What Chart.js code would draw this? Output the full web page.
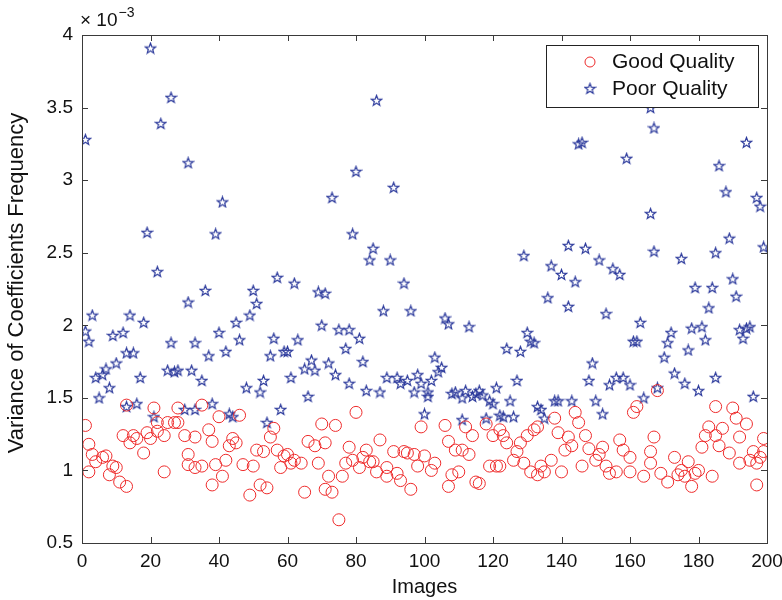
<!DOCTYPE html>
<html>
<head>
<meta charset="utf-8">
<script src="https://cdn.jsdelivr.net/npm/chart.js@4"></script>
<style>
  body { margin: 0; background: #fff; }
</style>
</head>
<body>
<canvas id="qualityChart" width="782" height="600"></canvas>
<script>
// values are in units of 1e-3
const goodX = [1,2,2,3,4,6,7,8,9,10,11,12,13,13,14,15,16,18,19,20,21,22,22,24,24,25,27,28,28,30,31,31,33,
  33,35,35,37,38,38,39,40,41,42,43,44,45,46,47,49,50,51,52,53,54,55,56,57,58,59,60,61,62,64,65,66,
  68,69,70,71,71,72,73,74,75,76,77,78,79,80,81,82,83,84,85,86,87,89,89,91,92,93,94,95,96,97,98,99,
  100,102,103,106,107,107,108,109,110,111,112,113,114,115,116,118,119,120,121,122,122,123,124,126,127,128,129,130,131,132,133,
  133,134,135,137,138,139,140,141,142,143,144,145,146,147,148,150,151,152,153,154,156,157,158,160,160,161,162,164,166,168,
  167,166,169,171,173,174,175,176,177,178,179,180,181,182,183,184,185,185,186,187,189,190,191,192,192,194,195,196,197,197,198,199,199];
const goodY = [1.31,1.18,0.99,1.11,1.06,1.09,1.10,0.97,1.03,1.02,0.92,1.24,1.45,0.89,1.19,1.24,1.22,1.12,1.26,1.22,1.43,1.27,1.33,1.24,0.99,1.33,1.33,1.33,1.43,1.24,1.11,1.04,1.23,
  1.02,1.45,1.03,1.28,0.90,1.20,1.04,1.37,0.96,1.07,1.17,1.22,1.19,1.38,1.04,0.83,1.03,1.14,0.90,1.13,0.88,1.23,1.29,1.14,1.02,1.10,1.11,1.05,1.07,1.05,0.85,1.20,
  1.17,1.05,1.32,1.19,0.87,0.96,0.85,1.31,0.66,0.96,1.05,1.16,1.07,1.40,1.02,1.09,1.14,1.06,1.06,0.99,1.21,0.96,1.02,1.13,0.98,0.93,1.13,1.12,0.87,1.11,1.03,1.30,
  1.10,1.00,1.05,1.31,0.89,1.20,0.97,1.14,0.99,1.14,1.30,1.11,1.24,0.92,0.91,1.32,1.03,1.24,1.03,1.28,1.03,1.24,1.19,1.07,1.13,1.19,1.05,1.24,0.99,1.28,0.97,
  1.30,1.03,0.99,1.07,1.36,1.26,0.99,1.14,1.23,1.17,1.40,1.33,1.03,1.24,1.15,1.07,1.11,1.16,1.03,0.98,0.99,1.21,1.14,0.99,1.09,1.40,1.44,0.96,1.05,1.55,
  1.23,1.13,0.98,0.92,1.09,0.97,1.00,0.96,1.06,0.89,0.98,1.00,1.16,1.24,1.30,0.96,1.24,1.44,1.17,1.29,1.12,1.43,1.36,1.23,1.05,1.32,1.07,1.13,1.05,0.90,1.09,1.13,1.22];

const poorX = [1,1,2,3,4,5,6,7,8,9,10,12,13,13,14,15,16,17,18,19,20,21,22,23,25,26,26,27,28,30,31,31,32,33,
  33,35,36,37,38,40,39,41,42,43,44,45,46,48,49,50,51,52,53,54,55,56,57,58,59,60,61,62,63,65,66,
  67,68,69,70,71,72,73,74,75,77,78,78,79,80,81,82,83,84,85,86,87,88,89,90,91,92,93,94,95,96,97,98,99,100,
  101,101,102,103,104,105,106,107,108,109,111,111,112,113,114,115,116,117,118,119,120,121,122,123,124,125,126,127,128,129,130,131,132,133,
  134,135,136,137,138,139,140,142,142,143,144,145,146,147,148,149,150,151,152,153,154,155,156,157,158,159,160,161,162,163,164,166,167,166,
  167,168,170,171,172,173,175,176,177,178,179,180,181,182,183,184,185,185,186,188,189,190,191,192,193,194,194,195,196,197,198,199];
const poorY = [3.28,1.96,1.89,2.07,1.64,1.50,1.66,1.70,1.57,1.93,1.74,1.95,1.44,1.81,2.07,1.81,1.46,1.64,2.02,2.64,3.91,1.37,2.37,3.39,1.69,1.88,3.57,1.68,1.69,1.42,3.12,2.16,1.69,1.88,
  1.42,1.62,2.24,1.79,1.46,1.95,2.63,2.85,1.82,1.39,1.37,2.02,1.90,1.57,2.07,2.24,2.15,1.54,1.62,1.33,1.79,1.91,2.33,1.42,1.82,1.82,1.64,2.29,1.90,1.70,1.51,
  1.76,1.69,2.23,2.00,2.22,1.74,2.88,1.66,1.97,1.84,1.97,1.60,2.63,3.06,1.91,1.75,1.55,2.45,2.53,3.55,1.54,2.10,1.64,2.45,2.95,1.64,1.60,2.29,1.62,2.10,1.54,1.66,1.60,1.39,
  1.54,1.51,1.62,1.78,1.68,1.71,2.05,2.01,1.53,1.54,1.35,1.50,1.55,1.99,1.51,1.53,1.55,1.52,1.36,1.48,1.46,1.57,1.38,1.37,1.84,1.48,1.37,1.62,1.82,2.48,1.95,1.89,1.88,1.44,
  1.42,1.36,2.19,2.41,1.48,1.48,2.35,2.55,2.13,1.48,2.30,3.25,3.26,2.53,1.62,1.74,1.48,2.45,1.39,2.08,1.59,2.39,1.64,2.35,1.64,3.15,1.59,1.89,1.89,2.02,1.50,2.77,2.51,3.50,
  3.36,1.57,1.78,1.88,1.95,1.67,2.46,1.60,1.83,1.98,2.26,1.55,1.99,1.90,2.12,2.26,2.50,1.64,3.10,2.92,2.60,2.32,2.20,1.97,1.91,1.98,3.26,1.99,1.51,2.88,2.82,2.54];

const xTicks = [0, 20, 40, 60, 80, 100, 120, 140, 160, 180, 200];
const yTicks = [0.5, 1, 1.5, 2, 2.5, 3, 3.5, 4];
const seriesNames = ['Good Quality', 'Poor Quality'];

const FONT = "'Liberation Sans', Arial, Helvetica, sans-serif";
const RED = '#ee2b2b';
const BLUE = '#2c3a9c';

function toPoints(xs, ys) {
  return xs.map((x, i) => ({ x: x, y: ys[i] }));
}

// pentagram marker like matlab 'p'
function makeStar(color) {
  const c = document.createElement('canvas');
  c.width = 13; c.height = 13;
  const g = c.getContext('2d');
  g.strokeStyle = color;
  g.lineWidth = 1.2;
  g.beginPath();
  for (let k = 0; k < 10; k++) {
    const r = k % 2 === 0 ? 5.5 : 2.3;
    const a = -Math.PI / 2 + k * Math.PI / 5;
    const px = 6.5 + r * Math.cos(a), py = 7 + r * Math.sin(a);
    if (k === 0) g.moveTo(px, py); else g.lineTo(px, py);
  }
  g.closePath();
  g.stroke();
  return c;
}
const starImg = makeStar(BLUE);

const framePlugin = {
  id: 'matlabFrame',
  afterDraw(chart) {
    const { ctx, chartArea: a, scales } = chart;
    ctx.save();
    ctx.strokeStyle = '#3a3a3a';
    ctx.lineWidth = 1;
    ctx.strokeRect(a.left + 0.5, a.top + 0.5, a.right - a.left, a.bottom - a.top);
    const tl = 6;
    ctx.beginPath();
    xTicks.forEach(v => {
      const px = Math.round(scales.x.getPixelForValue(v)) + 0.5;
      ctx.moveTo(px, a.bottom); ctx.lineTo(px, a.bottom - tl);
      ctx.moveTo(px, a.top); ctx.lineTo(px, a.top + tl);
    });
    yTicks.forEach(v => {
      const py = Math.round(scales.y.getPixelForValue(v)) + 0.5;
      ctx.moveTo(a.left, py); ctx.lineTo(a.left + tl, py);
      ctx.moveTo(a.right, py); ctx.lineTo(a.right - tl, py);
    });
    ctx.stroke();

    // axis titles
    ctx.fillStyle = '#111';
    ctx.font = '20px ' + FONT;
    ctx.textAlign = 'center';
    ctx.textBaseline = 'middle';
    ctx.fillText('Images', (a.left + a.right) / 2, 587);
    ctx.save();
    ctx.translate(17, (a.top + a.bottom) / 2 - 6);
    ctx.rotate(-Math.PI / 2);
    ctx.font = '22px ' + FONT;
    ctx.fillText('Variance of Coefficients Frequency', 0, 0);
    ctx.restore();

    // exponent label
    ctx.textAlign = 'left';
    ctx.textBaseline = 'alphabetic';
    ctx.font = '19px ' + FONT;
    ctx.fillText('\u00d7 10', 80, 26);
    const w = ctx.measureText('\u00d7 10').width;
    ctx.font = '14px ' + FONT;
    ctx.fillText('\u22123', 80 + w + 1, 17);

    // legend
    const lx = 546, ly = 45, lw = 212, lh = 62;
    ctx.fillStyle = '#fff';
    ctx.fillRect(lx, ly, lw, lh);
    ctx.strokeStyle = '#222';
    ctx.strokeRect(lx + 0.5, ly + 0.5, lw, lh);
    ctx.font = '21px ' + FONT;
    ctx.fillStyle = '#111';
    ctx.textBaseline = 'middle';
    ctx.fillText(seriesNames[0], 612, 62);
    ctx.fillText(seriesNames[1], 612, 89);
    ctx.strokeStyle = RED;
    ctx.beginPath();
    ctx.arc(590, 62, 5, 0, Math.PI * 2);
    ctx.stroke();
    ctx.drawImage(starImg, 590 - 6.5, 89 - 7);
    ctx.restore();
  }
};

const ctx = document.getElementById('qualityChart').getContext('2d');
const qualityChart = new Chart(ctx, {
  type: 'scatter',
  data: {
    datasets: [
      {
        label: seriesNames[0],
        data: toPoints(goodX, goodY),
        pointStyle: 'circle',
        pointRadius: 6,
        borderColor: RED,
        backgroundColor: 'rgba(0,0,0,0)',
        borderWidth: 1
      },
      {
        label: seriesNames[1],
        data: toPoints(poorX, poorY),
        pointStyle: starImg,
        borderColor: BLUE,
        backgroundColor: BLUE
      }
    ]
  },
  options: {
    responsive: false,
    animation: false,
    layout: { padding: { left: 0, right: 15, top: 35, bottom: 0 } },
    plugins: {
      legend: { display: false },
      tooltip: { enabled: false }
    },
    scales: {
      x: {
        type: 'linear',
        min: 0,
        max: 200,
        afterFit(scale) {
          scale.height = 57;
          scale.paddingLeft = 0;
          scale.paddingRight = 0;
        },
        afterBuildTicks(scale) { scale.ticks = xTicks.map(v => ({ value: v })); },
        grid: { display: false, drawTicks: false },
        border: { display: false },
        ticks: { padding: 7, color: '#111', font: { family: FONT, size: 19 } }
      },
      y: {
        type: 'linear',
        min: 0.5,
        max: 4,
        afterFit(scale) {
          scale.width = 82;
          scale.paddingTop = 0;
          scale.paddingBottom = 0;
        },
        afterBuildTicks(scale) { scale.ticks = yTicks.map(v => ({ value: v })); },
        grid: { display: false, drawTicks: false },
        border: { display: false },
        ticks: {
          padding: 9,
          color: '#111',
          font: { family: FONT, size: 19 },
          callback: v => String(v)
        }
      }
    }
  },
  plugins: [framePlugin]
});
</script>
</body>
</html>
